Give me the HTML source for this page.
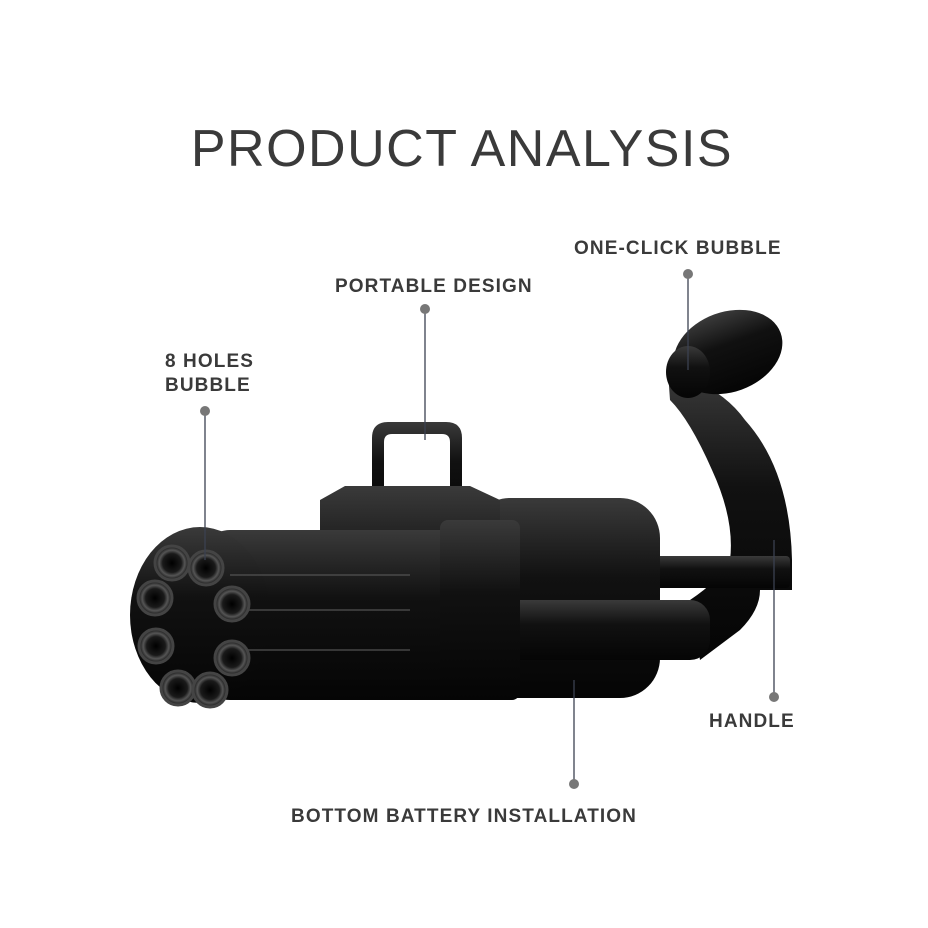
<!DOCTYPE html>
<html><head><meta charset="utf-8"><style>
html,body{margin:0;padding:0;background:#fff;}
svg{display:block;}
.t{font-family:"Liberation Sans",sans-serif;fill:#3a3a3a;}
.l{font-family:"Liberation Sans",sans-serif;font-weight:bold;font-size:19px;fill:#3a3a3a;letter-spacing:1.1px;}
</style></head><body>
<svg width="928" height="928" viewBox="0 0 928 928" xmlns="http://www.w3.org/2000/svg">
<defs>
<linearGradient id="g" x1="0" y1="0" x2="0" y2="1">
<stop offset="0" stop-color="#3a3a3a"/><stop offset="0.4" stop-color="#111"/><stop offset="1" stop-color="#050505"/>
</linearGradient>
<radialGradient id="b" cx="0.5" cy="0.5" r="0.5">
<stop offset="0" stop-color="#000"/><stop offset="0.55" stop-color="#1a1a1a"/><stop offset="0.75" stop-color="#555"/><stop offset="1" stop-color="#111"/>
</radialGradient>
</defs>
<text x="462" y="166" text-anchor="middle" class="t" font-size="52" letter-spacing="1.5">PRODUCT ANALYSIS</text>

<g fill="url(#g)">
<path d="M372 520 L372 438 Q372 422 388 422 L446 422 Q462 422 462 438 L462 520 L450 520 L450 442 Q450 434 442 434 L392 434 Q384 434 384 442 L384 520 Z"/>
<path d="M668 372 Q720 385 745 420 Q790 470 792 560 L792 590 L760 590 Q760 610 740 630 L700 660 L690 600 Q720 580 730 560 Q735 520 712 470 Q690 420 670 400 Z"/>
<ellipse cx="728" cy="352" rx="56" ry="40" transform="rotate(-20 728 352)"/>
<ellipse cx="688" cy="372" rx="22" ry="26"/>
<rect x="640" y="556" width="150" height="32" rx="4"/>
<rect x="470" y="498" width="190" height="200" rx="40"/>
<rect x="480" y="600" width="230" height="60" rx="20"/>
<path d="M320 500 L345 486 L470 486 L500 500 L500 700 L320 700 Z"/>
<rect x="200" y="530" width="270" height="170" rx="30"/>
<rect x="440" y="520" width="80" height="180" rx="8"/>
<ellipse cx="200" cy="615" rx="70" ry="88"/>
</g>
<g stroke="#555" stroke-width="2" fill="none" opacity="0.6">
<line x1="230" y1="575" x2="410" y2="575"/><line x1="230" y1="610" x2="410" y2="610"/><line x1="230" y1="650" x2="410" y2="650"/>
</g>
<g stroke="#444" stroke-width="3">
<circle cx="172" cy="563" r="17" fill="url(#b)"/>
<circle cx="206" cy="568" r="17" fill="url(#b)"/>
<circle cx="155" cy="598" r="17" fill="url(#b)"/>
<circle cx="232" cy="604" r="17" fill="url(#b)"/>
<circle cx="156" cy="646" r="17" fill="url(#b)"/>
<circle cx="232" cy="658" r="17" fill="url(#b)"/>
<circle cx="178" cy="688" r="17" fill="url(#b)"/>
<circle cx="210" cy="690" r="17" fill="url(#b)"/>
</g>

<g stroke="#3b4150" stroke-width="1.3">
<line x1="205" y1="411" x2="205" y2="560"/>
<line x1="425" y1="309" x2="425" y2="440"/>
<line x1="688" y1="274" x2="688" y2="370"/>
<line x1="774" y1="540" x2="774" y2="697"/>
<line x1="574" y1="680" x2="574" y2="784"/>
</g>
<g fill="#777">
<circle cx="205" cy="411" r="5"/><circle cx="425" cy="309" r="5"/><circle cx="688" cy="274" r="5"/>
<circle cx="774" cy="697" r="5"/><circle cx="574" cy="784" r="5"/>
</g>
<text x="165" y="367" class="l">8 HOLES</text>
<text x="165" y="391" class="l">BUBBLE</text>
<text x="335" y="292" class="l">PORTABLE DESIGN</text>
<text x="574" y="254" class="l">ONE-CLICK BUBBLE</text>
<text x="709" y="727" class="l">HANDLE</text>
<text x="291" y="822" class="l">BOTTOM BATTERY INSTALLATION</text>
</svg>
</body></html>
